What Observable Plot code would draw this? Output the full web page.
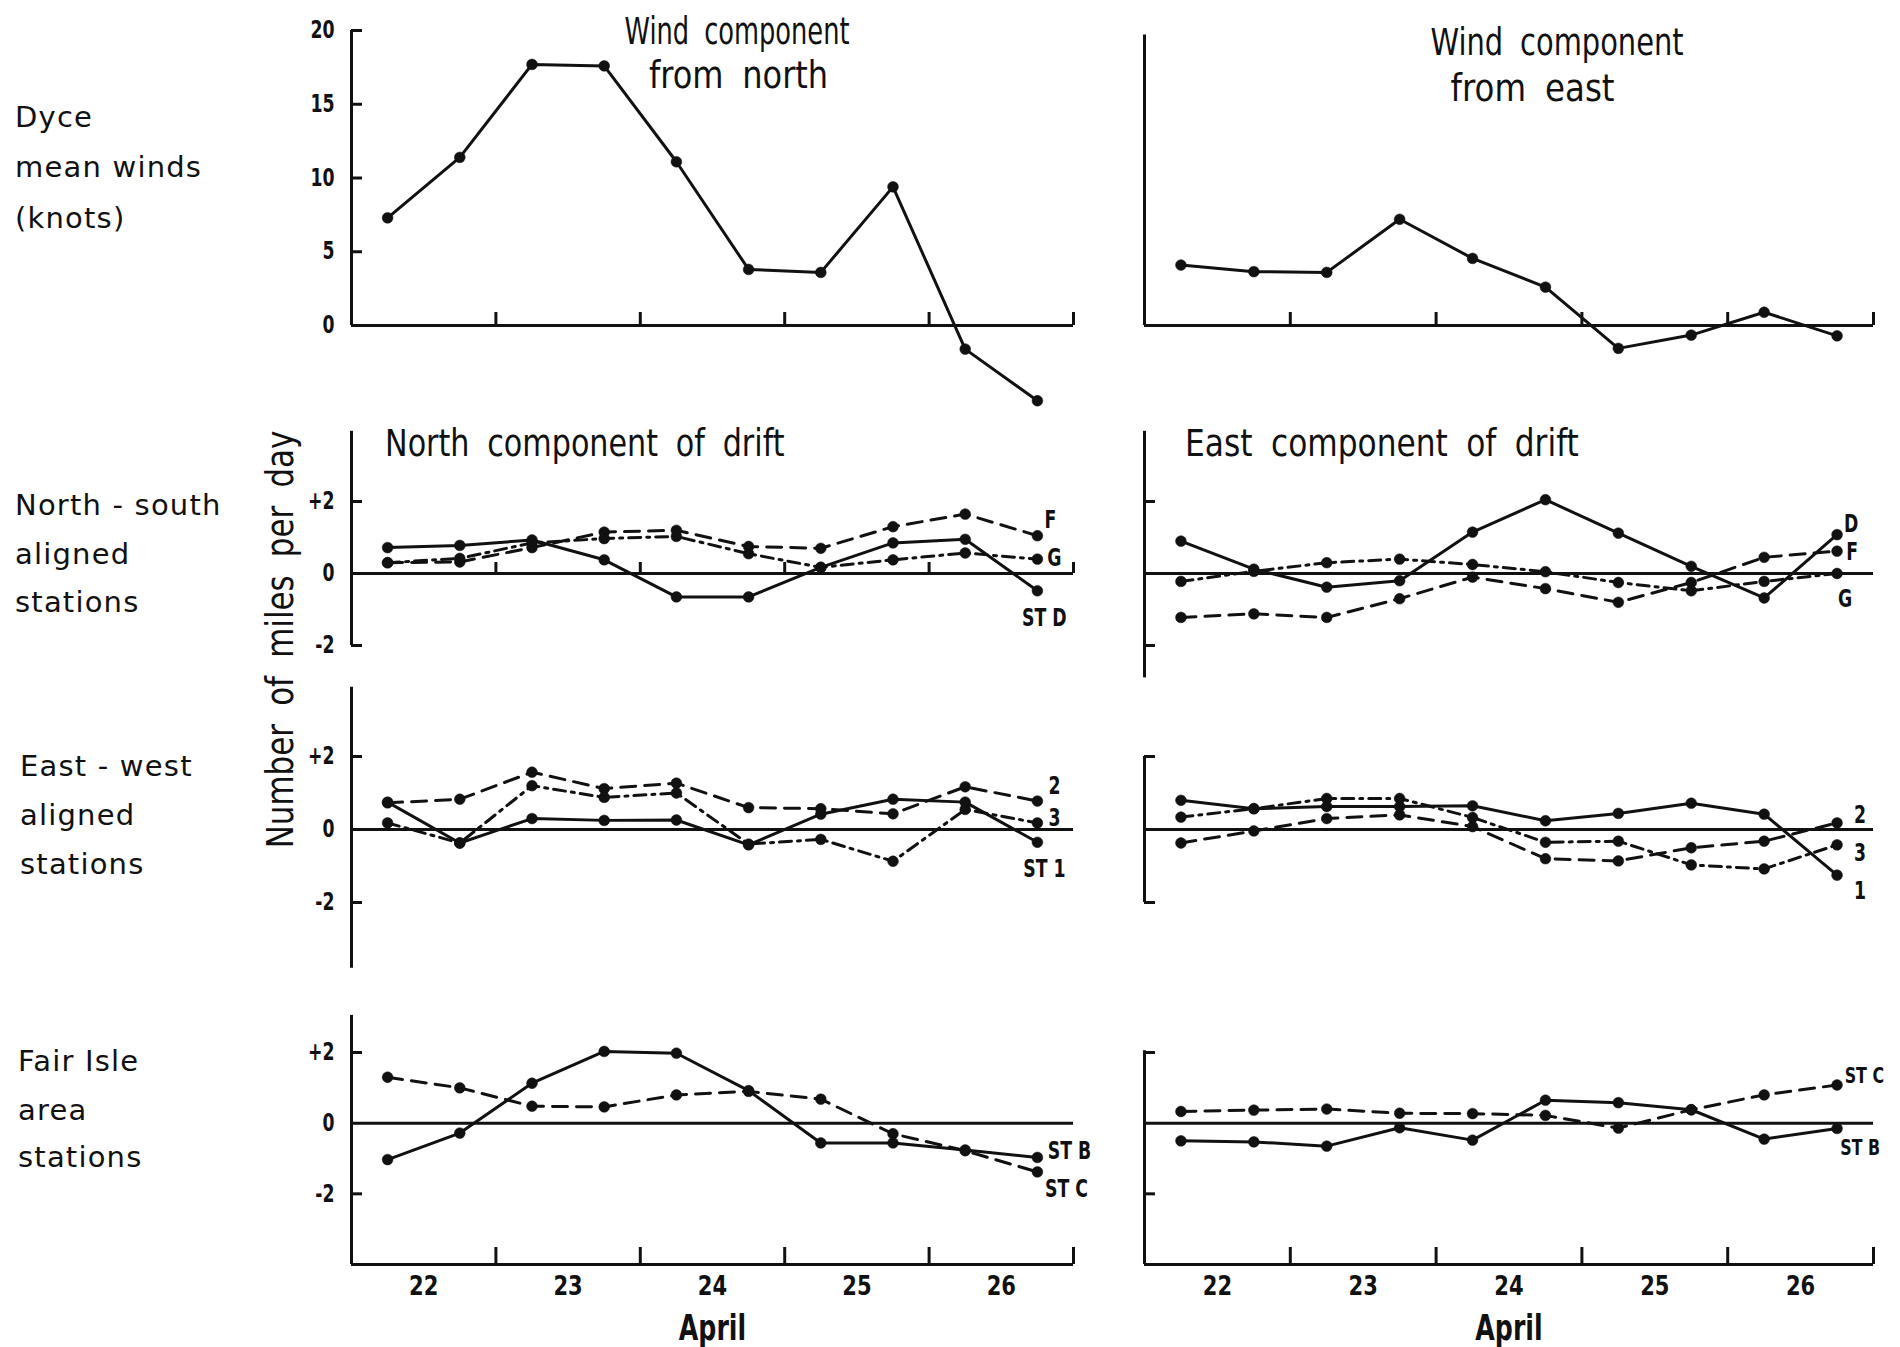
<!DOCTYPE html>
<html><head><meta charset="utf-8">
<script src="https://cdn.jsdelivr.net/npm/d3@7"></script>
<script src="https://cdn.jsdelivr.net/npm/@observablehq/plot@0.6"></script>
<style>
body{margin:0;background:#fff;}
#fig{position:relative;width:1900px;height:1347px;background:#fff;overflow:hidden;}
.lab{position:absolute;font-family:"DejaVu Sans",sans-serif;font-size:29px;letter-spacing:1.2px;line-height:1;color:#111;transform:translateY(-50%);white-space:pre;}
.ttl{position:absolute;font-family:"DejaVu Sans",sans-serif;font-size:37px;word-spacing:10px;color:#111;line-height:1;white-space:pre;transform-origin:50% 50%;}
.panel{position:absolute;}
.panel svg{overflow:visible;}
</style></head><body><div id="fig"></div><script>
// ---------- data ----------
const obsTime = [22.25, 22.75, 23.25, 23.75, 24.25, 24.75, 25.25, 25.75, 26.25, 26.75];
const dayLabels = ["22", "23", "24", "25", "26"];
const dayCentres = [22.5, 23.5, 24.5, 25.5, 26.5];
const dayBounds = [23, 24, 25, 26, 27];
const windTicks = [0, 5, 10, 15, 20];
const driftTicks = [-2, 0, 2];

// Dyce mean winds (knots)
const windFromNorth = [7.3, 11.4, 17.7, 17.6, 11.1, 3.8, 3.6, 9.4, -1.6, -5.1];
const windFromEast  = [4.1, 3.65, 3.6, 7.2, 4.55, 2.6, -1.55, -0.65, 0.9, -0.7];

// North-south aligned stations
const nsNorthD = [0.72, 0.78, 0.93, 0.38, -0.65, -0.65, 0.17, 0.85, 0.95, -0.48];
const nsNorthF = [0.3, 0.32, 0.72, 1.15, 1.2, 0.75, 0.7, 1.3, 1.65, 1.05];
const nsNorthG = [0.3, 0.42, 0.85, 0.97, 1.03, 0.55, 0.17, 0.38, 0.57, 0.4];
const nsEastD  = [0.9, 0.12, -0.38, -0.2, 1.15, 2.05, 1.12, 0.2, -0.68, 1.08];
const nsEastF  = [-1.22, -1.12, -1.22, -0.7, -0.1, -0.42, -0.8, -0.25, 0.45, 0.62];
const nsEastG  = [-0.22, 0.06, 0.3, 0.4, 0.25, 0.05, -0.25, -0.48, -0.22, 0.0];

// East-west aligned stations
const ewNorth1 = [0.75, -0.37, 0.3, 0.25, 0.26, -0.42, 0.42, 0.83, 0.75, -0.35];
const ewNorth2 = [0.73, 0.83, 1.57, 1.12, 1.27, 0.6, 0.57, 0.43, 1.17, 0.78];
const ewNorth3 = [0.18, -0.37, 1.2, 0.88, 1.0, -0.4, -0.27, -0.87, 0.55, 0.18];
const ewEast1  = [0.8, 0.57, 0.63, 0.63, 0.65, 0.24, 0.44, 0.72, 0.42, -1.25];
const ewEast2  = [-0.37, -0.04, 0.3, 0.4, 0.08, -0.8, -0.86, -0.5, -0.32, 0.18];
const ewEast3  = [0.34, 0.57, 0.85, 0.85, 0.33, -0.35, -0.32, -0.97, -1.08, -0.42];

// Fair Isle area stations
const fiNorthB = [-1.03, -0.28, 1.13, 2.03, 1.98, 0.92, -0.56, -0.56, -0.76, -0.97];
const fiNorthC = [1.3, 1.0, 0.48, 0.46, 0.8, 0.9, 0.68, -0.3, -0.78, -1.38];
const fiEastB  = [-0.5, -0.53, -0.65, -0.13, -0.48, 0.65, 0.58, 0.38, -0.45, -0.15];
const fiEastC  = [0.33, 0.37, 0.4, 0.28, 0.27, 0.22, -0.14, 0.38, 0.8, 1.08];

// ---------- layout & style ----------
const ink = "#111";
const SW = 3;
const FONT = '"DejaVu Sans",sans-serif';
const DASH = "15,9";
const DASHDOT = "12,6,3,6";
const COL = {
  L: {left: 290, width: 820, x0: 351, x1: 1073},
  R: {left: 1110, width: 790, x0: 1144, x1: 1873}
};
const ROW = {
  wind: {top: 0, height: 420, vTop: 20, vBot: 0, yTop: 30, yBot: 325},
  ns: {top: 420, height: 260, vTop: 2, vBot: -2, yTop: 501, yBot: 645},
  ew: {top: 680, height: 300, vTop: 2, vBot: -2, yTop: 756, yBot: 902},
  fi: {top: 980, height: 367, vTop: 2, vBot: -4, yTop: 1052, yBot: 1264}
};
const fig = document.getElementById("fig");
const rows = vals => obsTime.map((t, i) => ({t, v: vals[i]}));

// condense svg texts (the original lettering is a narrow face)
const SQUEEZE = {"y-axis tick label": 0.72, "x-axis tick label": 0.78, "text": 0.72};
function condense(svg) {
  svg.querySelectorAll("g[aria-label]").forEach(g => {
    const f = SQUEEZE[g.getAttribute("aria-label")];
    if (!f) return;
    g.querySelectorAll("text").forEach(t => {
      const L = t.getComputedTextLength();
      if (L > 0) { t.setAttribute("textLength", (L * f).toFixed(1)); t.setAttribute("lengthAdjust", "spacingAndGlyphs"); }
    });
  });
}

function panel(col, row, build) {
  const c = COL[col], r = ROW[row];
  const h = {pxDay: (c.x1 - c.x0) / 5, pxUnit: (r.yBot - r.yTop) / (r.vTop - r.vBot)};
  const svg = Plot.plot({
    width: c.width, height: r.height,
    marginLeft: c.x0 - c.left, marginRight: c.left + c.width - c.x1,
    marginTop: r.yTop - r.top, marginBottom: r.top + r.height - r.yBot,
    x: {domain: [22, 27], axis: null},
    y: {domain: [r.vBot, r.vTop], axis: null},
    style: {background: "transparent", color: ink, fontFamily: FONT, fontSize: "22px", overflow: "visible"},
    marks: build(h)
  });
  const div = document.createElement("div");
  div.className = "panel";
  div.style.left = c.left + "px";
  div.style.top = r.top + "px";
  div.appendChild(svg);
  fig.appendChild(div);
  condense(svg);
}
const vAxis = (from, to) => Plot.ruleX([22], {y1: from, y2: to, stroke: ink, strokeWidth: SW});
const yTicks = (h, vals, len = 11) => Plot.ruleY(vals, {x1: 22, x2: 22 + len / h.pxDay, stroke: ink, strokeWidth: SW});
const hLine = y => Plot.ruleY([y], {x1: 22, x2: 27, stroke: ink, strokeWidth: SW});
const xTicks = (h, y, len) => Plot.ruleX(dayBounds, {y1: y, y2: y + len / h.pxUnit, stroke: ink, strokeWidth: SW});
const fmtDrift = d => d > 0 ? "+" + d : d < 0 ? "-" + (-d) : "0";
const yLabels = (ticks, fmt) => Plot.axisY({ticks, label: null, tickSize: 0, tickPadding: 17, tickFormat: fmt, fontSize: 24, fontFamily: FONT, fontWeight: "bold"});
function series(vals, dash) {
  const data = rows(vals);
  return [
    Plot.line(data, {x: "t", y: "v", stroke: ink, strokeWidth: SW, strokeDasharray: dash}),
    Plot.dot(data, {x: "t", y: "v", r: 5.4, fill: ink, stroke: ink, strokeWidth: 0.5})
  ];
}
function endLabel(vals, label, dx, dy, anchor = "middle", size = 24) {
  const last = rows(vals).slice(-1);
  return Plot.text(last, {x: "t", y: "v", text: () => label, dx, dy, textAnchor: anchor, lineAnchor: "middle", fontSize: size, fontWeight: "bold", fontFamily: FONT, fill: ink});
}
const dayAxis = () => Plot.axisX({ticks: dayCentres, label: null, tickSize: 0, tickPadding: 11, tickFormat: d => dayLabels[dayCentres.indexOf(d)], fontSize: 27, fontFamily: FONT, fontWeight: "bold"});
const aprilLabel = () => Plot.text(["April"], {frameAnchor: "bottom", lineAnchor: "middle", dy: 64, fontSize: 35, fontWeight: "bold", fontFamily: FONT, fill: ink});

// ---------- panels ----------
panel("L", "wind", h => [
  vAxis(0, 20), yTicks(h, [5, 10, 15, 20]), hLine(0), xTicks(h, 0, 13),
  yLabels(windTicks, d => String(d)),
  ...series(windFromNorth, null)
]);
panel("R", "wind", h => [
  vAxis(0, 19.7), hLine(0), xTicks(h, 0, 13),
  ...series(windFromEast, null)
]);
panel("L", "ns", h => [
  vAxis(-2, 3.95), yTicks(h, [2, -2]), hLine(0), xTicks(h, 0, 11),
  yLabels(driftTicks, fmtDrift),
  ...series(nsNorthF, DASH), ...series(nsNorthG, DASHDOT), ...series(nsNorthD, null),
  endLabel(nsNorthF, "F", 13, -15), endLabel(nsNorthG, "G", 17, -1), endLabel(nsNorthD, "ST D", 7, 28)
]);
panel("R", "ns", h => [
  vAxis(-2.9, 3.95), yTicks(h, [2, -2]), hLine(0),
  ...series(nsEastF, DASH), ...series(nsEastG, DASHDOT), ...series(nsEastD, null),
  endLabel(nsEastD, "D", 14, -10), endLabel(nsEastF, "F", 15, 1), endLabel(nsEastG, "G", 8, 26)
]);
panel("L", "ew", h => [
  vAxis(-3.8, 3.9), yTicks(h, [2, -2]), hLine(0),
  yLabels(driftTicks, fmtDrift),
  ...series(ewNorth2, DASH), ...series(ewNorth3, DASHDOT), ...series(ewNorth1, null),
  endLabel(ewNorth2, "2", 17, -15), endLabel(ewNorth3, "3", 17, -5), endLabel(ewNorth1, "ST 1", 7, 27)
]);
panel("R", "ew", h => [
  vAxis(-2, 2), yTicks(h, [2, -2]), hLine(0),
  ...series(ewEast2, DASH), ...series(ewEast3, DASHDOT), ...series(ewEast1, null),
  endLabel(ewEast2, "2", 23, -8), endLabel(ewEast3, "3", 23, 8), endLabel(ewEast1, "1", 23, 16)
]);
panel("L", "fi", h => [
  vAxis(-4, 3.05), yTicks(h, [2, -2]), hLine(0), hLine(-4), xTicks(h, -4, 17),
  yLabels(driftTicks, fmtDrift), dayAxis(), aprilLabel(),
  ...series(fiNorthC, DASH), ...series(fiNorthB, null),
  endLabel(fiNorthB, "ST B", 32, -6), endLabel(fiNorthC, "ST C", 29, 17)
]);
panel("R", "fi", h => [
  vAxis(-4, 2.05), yTicks(h, [2, -2]), hLine(0), hLine(-4), xTicks(h, -4, 17),
  dayAxis(), aprilLabel(),
  ...series(fiEastC, DASH), ...series(fiEastB, null),
  endLabel(fiEastC, "ST C", 47, -9, "end", 22), endLabel(fiEastB, "ST B", 43, 19, "end", 22)
]);

// ---------- text ----------
function addLabel(txt, x, y) {
  const d = document.createElement("div");
  d.className = "lab"; d.textContent = txt;
  d.style.left = x + "px"; d.style.top = y + "px";
  fig.appendChild(d);
}
// centred title squeezed horizontally to the lettering's width
function addTitle(txt, cx, cy, targetW, rotate) {
  const d = document.createElement("div");
  d.className = "ttl"; d.textContent = txt;
  fig.appendChild(d);
  const w = d.offsetWidth, hgt = d.offsetHeight;
  d.style.left = (cx - w / 2) + "px"; d.style.top = (cy - hgt / 2) + "px";
  const s = targetW / w;
  d.style.transform = (rotate ? "rotate(-90deg) " : "") + "scaleX(" + s.toFixed(3) + ")";
}
const rowLabels = [
  ["Dyce", 15, 117], ["mean winds", 15, 167], ["(knots)", 15, 218],
  ["North - south", 15, 505], ["aligned", 15, 554], ["stations", 15, 602],
  ["East - west", 20, 766], ["aligned", 20, 815], ["stations", 20, 864],
  ["Fair Isle", 18, 1061], ["area", 18, 1110], ["stations", 18, 1157]
];
rowLabels.forEach(([t, x, y]) => addLabel(t, x, y));
addTitle("Wind component", 737, 31, 225);
addTitle("from north", 738, 75, 179);
addTitle("Wind component", 1557, 42, 253);
addTitle("from east", 1532, 88, 164);
addTitle("North component of drift", 585, 443, 400);
addTitle("East component of drift", 1382, 443, 394);
addTitle("Number of miles per day", 281, 639, 418, true);
</script></body></html>
